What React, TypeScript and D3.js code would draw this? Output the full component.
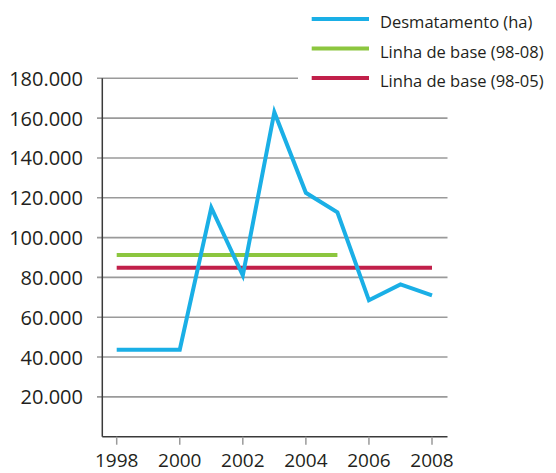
import React from "react";
import * as d3 from "d3";

const years = [1998, 1999, 2000, 2001, 2002, 2003, 2004, 2005, 2006, 2007, 2008];
const desmatamento = [43.7, 43.7, 43.7, 115, 81, 163, 122.5, 112.7, 68.5, 76.5, 71];
const baseline9808 = { from: 1998, to: 2005, value: 91.3 };
const baseline9805 = { from: 1998, to: 2008, value: 84.9 };
const yTicks = [20, 40, 60, 80, 100, 120, 140, 160, 180];
const xTicks = [1998, 2000, 2002, 2004, 2006, 2008];
const legendLabels = ["Desmatamento (ha)", "Linha de base (98-08)", "Linha de base (98-05)"];

const BLUE = "#1aafe6";
const GREEN = "#8cc63f";
const RED = "#c1204a";
const FONT = "'Open Sans', 'DejaVu Sans', sans-serif";

export default function App() {
  const W = 556, H = 473;
  const x = d3.scaleLinear().domain([1998, 2008]).range([116.7, 432]);
  const y = d3.scaleLinear().domain([0, 180]).range([436.7, 78.3]);
  const axisX = 102.3;
  const gridLeft = 97;
  const gridRight = 447.5;

  const line = d3.line<[number, number]>().x(d => x(d[0])).y(d => y(d[1]));
  const mainPts: [number, number][] = years.map((yr, i) => [yr, desmatamento[i]]);
  const fmt = (v: number) => d3.format(",")(v * 1000).replace(/,/g, ".");
  const colors = [BLUE, GREEN, RED];

  return (
    <svg width={W} height={H} style={{ position: "absolute", left: 0, top: 0, background: "#fff" }}
      fontFamily={FONT}>
      {/* gridlines */}
      {yTicks.map(t => (
        <line key={t} x1={gridLeft} x2={gridRight} y1={y(t)} y2={y(t)} stroke="#9a9a9a" strokeWidth={1.6} />
      ))}
      {/* legend background */}
      <rect x={298} y={0} width={W - 298} height={92} fill="#fff" />
      {/* axes */}
      <line x1={axisX} x2={axisX} y1={y(180)} y2={y(0)} stroke="#3a3a3a" strokeWidth={1.5} />
      <line x1={axisX} x2={gridRight} y1={y(0)} y2={y(0)} stroke="#3a3a3a" strokeWidth={1.5} />
      {xTicks.map(t => (
        <line key={t} x1={x(t)} x2={x(t)} y1={y(0)} y2={y(0) + 8} stroke="#9a9a9a" strokeWidth={1.5} />
      ))}
      {/* y labels */}
      {yTicks.map(t => (
        <text key={t} x={83} y={y(t) + 7.5} textAnchor="end" fontSize={20} fill="#231f20">{fmt(t)}</text>
      ))}
      {/* x labels */}
      {xTicks.map(t => (
        <text key={t} x={x(t)} y={467} textAnchor="middle" fontSize={19} fill="#231f20">{t}</text>
      ))}
      {/* baselines */}
      <line x1={x(baseline9808.from)} x2={x(baseline9808.to)} y1={y(baseline9808.value)} y2={y(baseline9808.value)}
        stroke={GREEN} strokeWidth={4} />
      <line x1={x(baseline9805.from)} x2={x(baseline9805.to)} y1={y(baseline9805.value)} y2={y(baseline9805.value)}
        stroke={RED} strokeWidth={4} />
      {/* main series */}
      <path d={line(mainPts) || ""} fill="none" stroke={BLUE} strokeWidth={4} strokeLinejoin="miter" />
      {/* legend */}
      {legendLabels.map((l, i) => (
        <g key={l}>
          <line x1={311.7} x2={369} y1={19 + i * 29.5} y2={19 + i * 29.5} stroke={colors[i]} strokeWidth={4} />
          <text x={380} y={28 + i * 29.5} fontSize={16.5} fill="#231f20">{l}</text>
        </g>
      ))}
    </svg>
  );
}
